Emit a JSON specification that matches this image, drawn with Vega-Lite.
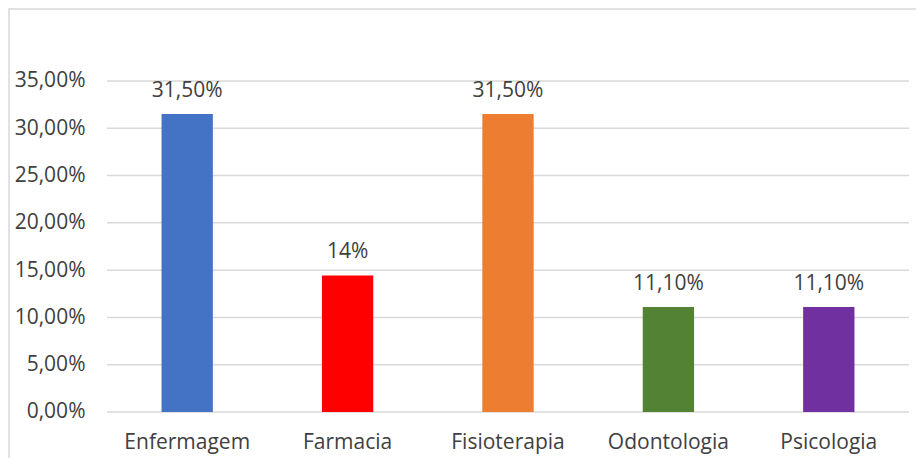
{
  "$schema": "https://vega.github.io/schema/vega-lite/v6.json",
  "width": 919,
  "height": 461,
  "autosize": {"type": "none"},
  "padding": {"left": 9, "top": 9, "right": -12, "bottom": -12},
  "background": "white",
  "config": {
    "view": {"stroke": "#D9D9D9", "strokeWidth": 1.5},
    "font": "Open Sans",
    "axis": {"labelFont": "Open Sans", "labelColor": "#404040", "labelFontSize": 21}
  },
  "resolve": {"scale": {"x": "independent"}, "axis": {"x": "independent"}},
  "layer": [
    {
      "data": {"values": [{"g": 0}, {"g": 0.05}, {"g": 0.1}, {"g": 0.15}, {"g": 0.2}, {"g": 0.25}, {"g": 0.3}, {"g": 0.35}]},
      "mark": {"type": "rule", "color": "#D9D9D9", "strokeWidth": 1.5},
      "encoding": {
        "y": {"field": "g", "type": "quantitative", "scale": {"domain": [-0.061329, 0.42613], "nice": false, "zero": false},
          "axis": {
            "title": null,
            "values": [0, 0.05, 0.1, 0.15, 0.2, 0.25, 0.3, 0.35],
            "labelExpr": "replace(format(datum.value, '.2%'), '.', ',')",
            "domain": false,
            "ticks": false,
            "grid": false,
            "offset": -98,
            "labelPadding": 22
          }},
        "x": {"datum": 0, "type": "quantitative", "scale": {"domain": [0, 1], "range": [98, 900], "nice": false}, "axis": null},
        "x2": {"datum": 1}
      }
    },
    {
      "data": {
        "name": "cursos",
        "values": [
          {"curso": "Enfermagem", "valor": 0.315, "rotulo": "31,50%", "cor": "#4472C4"},
          {"curso": "Farmacia", "valor": 0.1444, "rotulo": "14%", "cor": "#FF0000"},
          {"curso": "Fisioterapia", "valor": 0.315, "rotulo": "31,50%", "cor": "#ED7D31"},
          {"curso": "Odontologia", "valor": 0.111, "rotulo": "11,10%", "cor": "#548235"},
          {"curso": "Psicologia", "valor": 0.111, "rotulo": "11,10%", "cor": "#7030A0"}
        ]
      },
      "encoding": {
        "x": {
          "field": "curso",
          "type": "nominal",
          "sort": null,
          "scale": {"range": [98, 900], "paddingInner": 0.68, "paddingOuter": 0.34},
          "axis": {"title": null, "labelAngle": 0, "domain": false, "ticks": false, "grid": false, "labelPadding": 19, "labelBaseline": "top", "offset": -58}
        },
        "y": {"field": "valor", "type": "quantitative"}
      },
      "layer": [
        {
          "mark": {"type": "bar"},
          "encoding": {
            "y2": {"datum": 0},
            "color": {"field": "cor", "type": "nominal", "scale": null, "legend": null}
          }
        },
        {
          "mark": {"type": "text", "baseline": "alphabetic", "dy": -17, "fontSize": 21, "color": "#404040", "font": "Open Sans"},
          "encoding": {"text": {"field": "rotulo"}}
        }
      ]
    }
  ]
}
